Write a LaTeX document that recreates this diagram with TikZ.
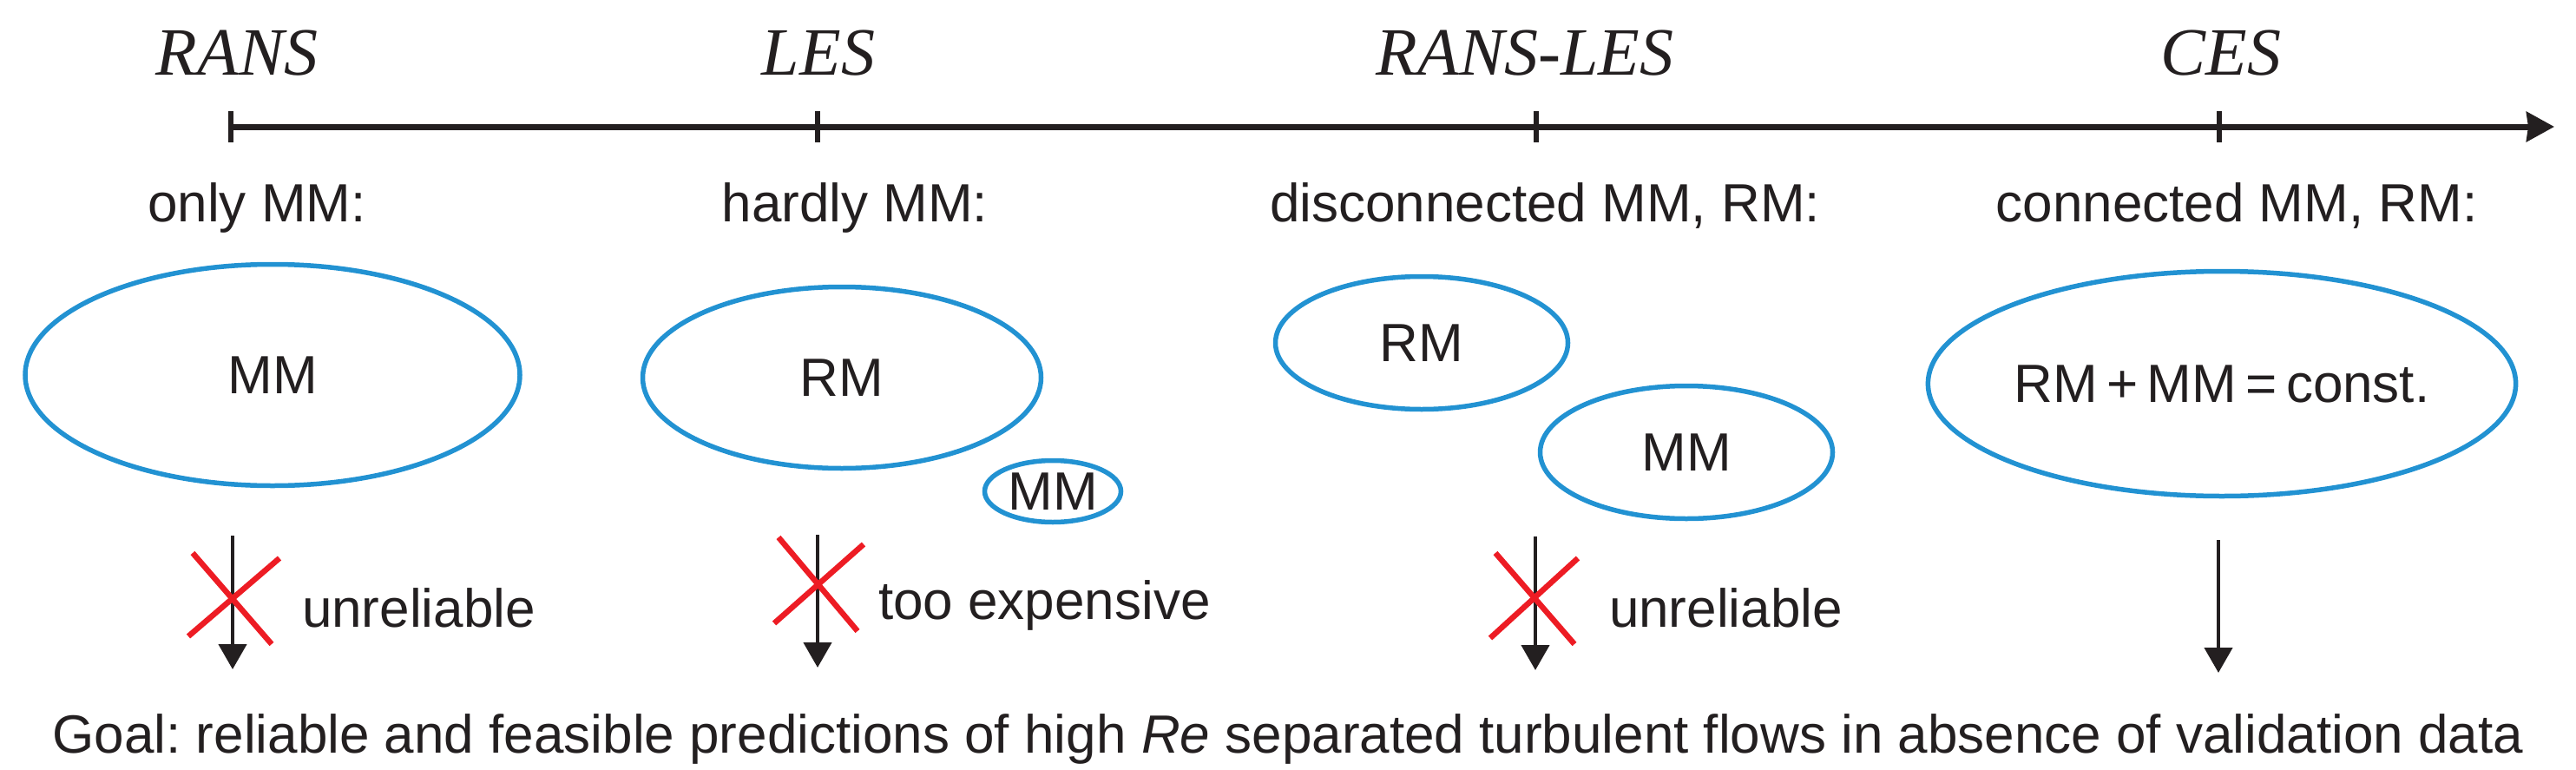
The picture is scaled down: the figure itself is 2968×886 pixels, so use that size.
\documentclass[tikz,border=0pt]{standalone}
\usepackage{fontspec}
\setmainfont{Liberation Sans}
\newfontfamily\titlefont{Liberation Serif}
\usetikzlibrary{arrows.meta,shapes.geometric}
\definecolor{ink}{HTML}{231F20}
\definecolor{eblue}{HTML}{2292D2}
\definecolor{xred}{HTML}{ED1C24}
\frenchspacing
\tikzset{
  body/.style={inner sep=0pt, outer sep=0pt, text=ink, font=\fontsize{62}{70}\selectfont},
  title/.style={inner sep=0pt, outer sep=0pt, text=ink, anchor=base, font=\titlefont\itshape\fontsize{78}{88}\selectfont},
  bubble/.style={ellipse, draw=eblue, line width=5.5pt, inner sep=0pt, text=ink, font=\fontsize{62}{70}\selectfont},
  axisline/.style={draw=ink, line width=7pt, -{Stealth[length=32pt,width=34pt,inset=2pt]}},
  tickmark/.style={draw=ink, line width=6pt},
  flow/.style={draw=ink, line width=4.5pt, -{Triangle[length=29pt,width=32pt]}},
  cross/.style={draw=xred, line width=6.5pt}
}
\begin{document}
\begin{tikzpicture}[x=1pt,y=-1pt]
\useasboundingbox (0,0) rectangle (2968,886);
% axis
\coordinate (ax0) at (265,146);
\coordinate (ax1) at (2943,146);
\draw[axisline] (ax0) -- (ax1);
\foreach \tx in {266,942,1770,2557} \draw[tickmark] (\tx,128) -- (\tx,164);
% titles
\node[title] (t1) at (273,86) {RANS};
\node[title] (t2) at (943,86) {LES};
\node[title] (t3) at (1757,86) {RANS-LES};
\node[title] (t4) at (2559,86) {CES};
% subtitles
\node[body, anchor=base] (s1) at (296,255) {only MM:};
\node[body, anchor=base] (s2) at (985,255) {hardly MM:};
\node[body, anchor=base] (s3) at (1780,255) {disconnected MM, RM:};
\node[body, anchor=base] (s4) at (2577,255) {connected MM, RM:};
% ellipses
\node[bubble, minimum width=570pt, minimum height=255pt] (e1) at (314,432) {MM};
\node[bubble, minimum width=459pt, minimum height=209pt] (e2) at (970,435) {RM};
\node[bubble, minimum width=157pt, minimum height=71pt] (e3) at (1213,566) {MM};
\node[bubble, minimum width=337pt, minimum height=153pt] (e4) at (1638,395) {RM};
\node[bubble, minimum width=337pt, minimum height=153pt] (e5) at (1943,521) {MM};
\node[bubble, minimum width=573pt, minimum height=259pt] (e6) at (2560,442) {RM\,+\,MM\,=\,const.};
% arrows
\coordinate (a1t) at (268,617); \coordinate (a1b) at (268,771);
\coordinate (a2t) at (942,616); \coordinate (a2b) at (942,769);
\coordinate (a3t) at (1769,618); \coordinate (a3b) at (1769,772);
\coordinate (a4t) at (2556,622); \coordinate (a4b) at (2556,775);
\draw[flow] (a1t) -- (a1b);
\draw[flow] (a2t) -- (a2b);
\draw[flow] (a3t) -- (a3b);
\draw[flow] (a4t) -- (a4b);
% red crosses
\draw[cross] (222,637) -- (313,742);
\draw[cross] (322,643) -- (217,733);
\draw[cross] (897,619) -- (988,727);
\draw[cross] (995,627) -- (892,718);
\draw[cross] (1723,637) -- (1814,742);
\draw[cross] (1818,643) -- (1717,735);
% verdicts
\node[body, anchor=base west] (v1) at (348,722) {unreliable};
\node[body, anchor=base west] (v2) at (1012,713) {too expensive};
\node[body, anchor=base west] (v3) at (1854,722) {unreliable};
% goal
\node[body, anchor=base] (goal) at (1484,867) {Goal: reliable and feasible predictions of high \textit{Re} separated turbulent flows in absence of validation data};
\end{tikzpicture}
\end{document}
